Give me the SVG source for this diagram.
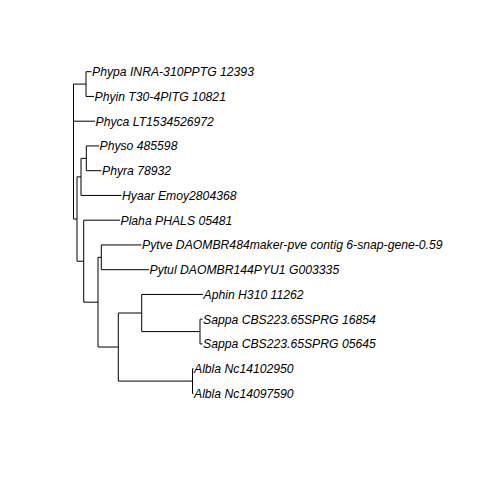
<svg xmlns="http://www.w3.org/2000/svg" width="480" height="480" viewBox="0 0 480 480">
<style>
.e{fill:none;stroke:#000;stroke-width:1}
.t{font-family:"Liberation Sans",Arial,sans-serif;font-style:italic;font-size:12.2px;fill:#000}
</style>
<rect width="480" height="480" fill="#fff"/>
<g id="connectors" class="e">
<path d="M73.5,84.08V219.04M73.5,84.08H86M73.5,121.2H95M73.5,219.04H77"/>
<path d="M86,71.7V96.45M86,71.7H91.5M86,96.45H94"/>
<path d="M77,176.89V261.19M77,176.89H81M77,261.19H83.7"/>
<path d="M81,158.33V195.45M81,158.33H86.3M81,195.45H121.5"/>
<path d="M86.3,145.95V170.7M86.3,145.95H99M86.3,170.7H101.5"/>
<path d="M83.7,220.2V302.19M83.7,220.2H120M83.7,302.19H98"/>
<path d="M98,257.33V347.04M98,257.33H101.3M98,347.04H118.3"/>
<path d="M101.3,244.95V269.7M101.3,244.95H141.5M101.3,269.7H149"/>
<path d="M118.3,313.01V381.08M118.3,313.01H141.7M118.3,381.08H192.5"/>
<path d="M141.7,294.45V331.58M141.7,294.45H203M141.7,331.58H200"/>
<path d="M200,319.2V343.95M200,319.2H202.5M200,343.95H202.5"/>
<path d="M192.5,368.7V393.45M192.5,368.7H193.5M192.5,393.45H193.5"/>
</g>
<g id="n1"><text class="t" x="92" y="76">Phypa INRA-310PPTG 12393</text></g>
<g id="n2"><text class="t" x="94.5" y="100.75">Phyin T30-4PITG 10821</text></g>
<g id="n3"><text class="t" x="95.5" y="125.5">Phyca LT1534526972</text></g>
<g id="n4"><text class="t" x="99.5" y="150.25">Physo 485598</text></g>
<g id="n5"><text class="t" x="102" y="175">Phyra 78932</text></g>
<g id="n6"><text class="t" x="122" y="199.75">Hyaar Emoy2804368</text></g>
<g id="n7"><text class="t" x="120.5" y="224.5">Plaha PHALS 05481</text></g>
<g id="n8"><text class="t" x="142" y="249.25">Pytve DAOMBR484maker-pve contig 6-snap-gene-0.59</text></g>
<g id="n9"><text class="t" x="149.5" y="274">Pytul DAOMBR144PYU1 G003335</text></g>
<g id="n10"><text class="t" x="203.5" y="298.75">Aphin H310 11262</text></g>
<g id="n11"><text class="t" x="203" y="323.5">Sappa CBS223.65SPRG 16854</text></g>
<g id="n12"><text class="t" x="203" y="348.25">Sappa CBS223.65SPRG 05645</text></g>
<g id="n13"><text class="t" x="194" y="373">Albla Nc14102950</text></g>
<g id="n14"><text class="t" x="194" y="397.75">Albla Nc14097590</text></g>
</svg>
